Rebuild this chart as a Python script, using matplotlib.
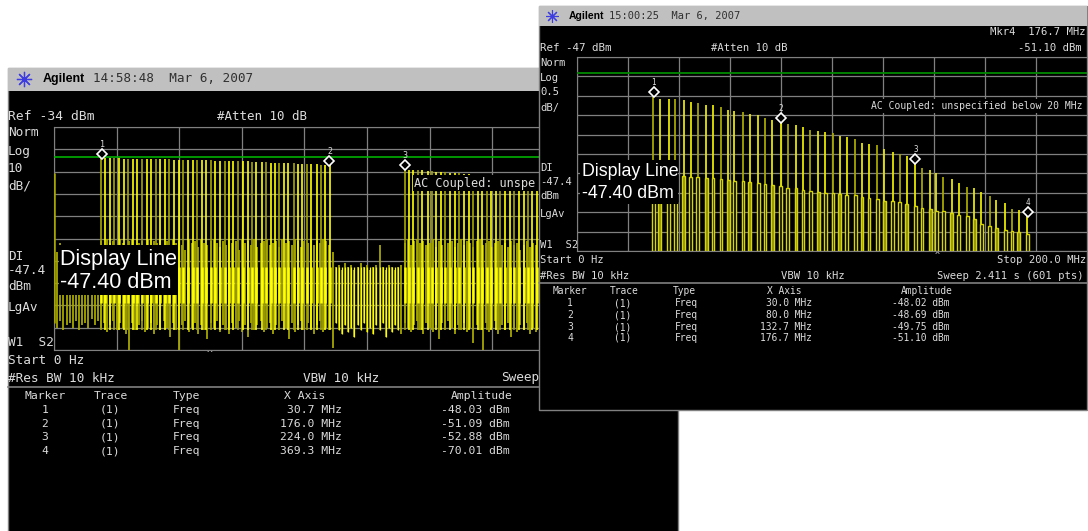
import matplotlib
matplotlib.use('Agg')
import matplotlib.pyplot as plt
import numpy as np
from matplotlib.patches import Rectangle
from matplotlib.transforms import offset_copy

W, H = 1088, 531

# comb of harmonics, MHz
comb_f = [29.9, 32.5, 35.9, 38.6, 41.8, 44.6, 47.3, 50.7, 53.3, 56.5, 59.3, 61.7, 65.1, 67.7, 71.1, 73.7, 76.6,
          79.9, 82.6, 85.9, 88.6, 91.5, 94.7, 97.4, 100.4, 103.0, 105.8, 109.2, 111.8, 114.5, 117.8, 120.5,
          123.8, 126.6, 129.3, 132.7, 135.3, 138.6, 140.9, 143.7, 147.0, 149.7, 153.1, 155.8, 158.6, 161.9,
          164.5, 168.0, 170.6, 173.2, 176.6]
comb_peak = [-48.02, -48.08, -48.08, -48.08, -48.12, -48.15, -48.18, -48.24, -48.24, -48.29, -48.36, -48.38,
             -48.42, -48.47, -48.50, -48.57, -48.62, -48.69, -48.72, -48.74, -48.80, -48.87, -48.91, -48.93,
             -48.96, -49.03, -49.07, -49.11, -49.21, -49.24, -49.27, -49.36, -49.44, -49.49, -49.56, -49.75,
             -49.85, -49.92, -50.00, -50.08, -50.15, -50.24, -50.34, -50.38, -50.48, -50.58, -50.69, -50.77,
             -50.91, -50.95, -51.10]
comb_base = [-50.75, -50.75, -50.75, -50.75, -50.07, -50.09, -50.09, -50.13, -50.13, -50.15, -50.17, -50.19,
             -50.20, -50.22, -50.26, -50.28, -50.31, -50.32, -50.37, -50.37, -50.43, -50.45, -50.48, -50.50,
             -50.51, -50.53, -50.55, -50.56, -50.61, -50.63, -50.65, -50.70, -50.72, -50.75, -50.79, -50.84,
             -50.88, -50.92, -50.96, -50.97, -51.03, -51.08, -51.09, -51.18, -51.31, -51.35, -51.40, -51.45,
             -51.49, -51.50, -51.55]

# left screen, second group of harmonics above 224 MHz
comb2_f = [224.0, 226.7, 229.7, 232.7, 235.3, 238.7, 241.3, 244.0, 247.3, 250.0, 253.3, 256.0, 259.0, 261.7,
           265.0, 267.7, 270.7, 273.7, 276.7, 279.3, 282.7, 285.3, 288.0, 291.3, 294.0, 297.0, 300.0, 302.7,
           305.7, 308.7]
comb2_peak = [-52.9, -53.1, -53.2, -53.4, -53.5, -53.7, -53.8, -54.0, -54.1, -54.3, -54.5, -54.6, -54.8, -55.0,
              -55.2, -55.4, -55.5, -55.8, -56.0, -56.2, -56.4, -56.6, -56.9, -57.1, -57.4, -57.6, -57.9, -58.1,
              -58.4, -58.7]

# left screen trace floor, one value every 2 MHz
noise_top = [-88, -90, -86, -92, -89, -91, -87, -90, -92, -88,
             -91, -89, -93, -90, -88, -85, -87, -84, -86, -85,
             -88, -84, -86, -87, -85, -84, -88, -86, -85, -87,
             -84, -89, -85, -86, -84, -87, -85, -88, -84, -86,
             -85, -87, -89, -84, -86, -85, -88, -84, -86, -87,
             -85, -84, -86, -88, -85, -87, -84, -86, -85, -89,
             -84, -86, -85, -87, -84, -88, -86, -85, -84, -87,
             -86, -85, -88, -84, -86, -85, -87, -84, -85, -88,
             -85, -86, -84, -87, -85, -86, -84, -85, -87, -90,
             -97, -96, -98, -95, -97, -96, -98, -97, -95, -97,
             -96, -98, -97, -96, -87, -97, -98, -96, -97, -98,
             -97, -96, -86, -84, -87, -85, -84, -86, -85, -87,
             -86, -84, -88, -85, -87, -84, -86, -85, -88, -86,
             -84, -87, -85, -86, -88, -85, -84, -87, -86, -85,
             -88, -86, -85, -87, -86, -88, -85, -87, -86, -89,
             -87, -85, -88, -86, -87]
noise_bot = [-122, -124, -121, -125, -123, -122, -124, -121, -125, -123,
             -122, -124, -120, -123, -121, -124, -122, -126, -123, -121,
             -125, -122, -124, -127, -134, -122, -125, -123, -121, -126,
             -124, -122, -127, -123, -125, -121, -124, -128, -122, -125,
             -134, -123, -121, -126, -124, -122, -127, -123, -125, -129,
             -122, -124, -121, -126, -123, -125, -127, -122, -124, -121,
             -126, -123, -128, -122, -125, -123, -121, -126, -124, -122,
             -127, -123, -125, -121, -124, -129, -122, -126, -123, -121,
             -125, -122, -124, -127, -123, -121, -126, -124, -125, -133,
             -122, -125, -127, -123, -126, -124, -128, -123, -125, -122,
             -126, -124, -127, -123, -125, -122, -128, -124, -126, -123,
             -125, -127, -122, -124, -126, -123, -121, -125, -127, -122,
             -124, -126, -123, -129, -122, -125, -121, -124, -127, -123,
             -125, -122, -126, -124, -131, -123, -125, -134, -122, -126,
             -124, -121, -127, -123, -125, -122, -128, -124, -126, -123,
             -125, -122, -127, -124, -126]

# markers: frequency, amplitude
mk_l_f = [30.7, 176.0, 224.0, 369.3]
mk_l_a = [-48.03, -51.09, -52.88, -70.01]
mk_r_f = [30.0, 80.0, 132.7, 176.7]
mk_r_a = [-48.02, -48.69, -49.75, -51.10]

display_line = -47.4

BRIGHT = '#ffff00'
OLIVE = '#a6a600'
GRID = '#808080'
TXT = '#dcdcdc'
MONO = 'DejaVu Sans Mono'
SANS = 'Liberation Sans'

fig = plt.figure(figsize=(W / 100, H / 100), dpi=100, facecolor='white')


def overlay(z):
    a = fig.add_axes([0, 0, 1, 1], zorder=z)
    a.set_xlim(0, W)
    a.set_ylim(H, 0)
    a.axis('off')
    a.patch.set_alpha(0)
    return a


def plot_axes(x0, x1, y0, y1, z):
    a = fig.add_axes([x0 / W, 1 - y1 / H, (x1 - x0) / W, (y1 - y0) / H], zorder=z)
    a.set_facecolor('black')
    a.tick_params(left=False, bottom=False, labelleft=False, labelbottom=False)
    a.grid(True, color=GRID, lw=0.9)
    a.set_axisbelow(True)
    for s in a.spines.values():
        s.set_color(GRID)
    return a


def t(a, x, y, s, size, ha='left', **kw):
    kw.setdefault('color', TXT)
    kw.setdefault('family', MONO)
    a.text(x, y, s, fontsize=size, ha=ha, va='center', clip_on=True, **kw)


def panel(a, x0, y0, x1, y1, head):
    a.add_patch(Rectangle((x0, y0), x1 - x0, y1 - y0, fc='black', ec=GRID, lw=1))
    a.add_patch(Rectangle((x0, y0), x1 - x0, head - y0, fc='#c0c0c0', ec='none'))


def markers(a, fs, amps, size):
    shifted = offset_copy(a.transData, fig=fig, y=4.5, units='dots')
    a.plot(fs, amps, ls='none', marker='D', ms=4.8, mfc='black', mec='white', mew=1.2, transform=shifted, zorder=6)
    labels = offset_copy(a.transData, fig=fig, y=14, units='dots')
    for i, (f, v) in enumerate(zip(fs, amps)):
        a.text(f, v, str(i + 1), color=TXT, fontsize=size, family=MONO, ha='center', va='center',
               transform=labels, zorder=6, clip_on=True)


# left instrument
bg_l = overlay(1)
panel(bg_l, 8, 68, 678, 540, 91)
bg_l.plot([24], [79], marker=(8, 2, 0), ms=11, color='#3c3ce0', mew=0.9)
t(bg_l, 43, 79, 'Agilent', 9, weight='bold', family=SANS, color='black')
t(bg_l, 93, 79, '14:58:48  Mar 6, 2007', 9.1, color='#303030')
t(bg_l, 8, 117, 'Ref -34 dBm', 9.4)
t(bg_l, 217, 117, '#Atten 10 dB', 9.0)
for s, y in [('Norm', 133), ('Log', 151), ('10', 168), ('dB/', 186), ('DI', 256), ('-47.4', 271), ('dBm', 287),
             ('LgAv', 308), ('W1  S2', 342)]:
    t(bg_l, 8, y, s, 9.2)
t(bg_l, 8, 360, 'Start 0 Hz', 9.2)
t(bg_l, 207, 354, '^', 7)
t(bg_l, 8, 378, '#Res BW 10 kHz', 9.2)
t(bg_l, 303, 378, 'VBW 10 kHz', 9.2)
t(bg_l, 501, 378, 'Sweep', 9.2)
bg_l.plot([8, 678], [387, 387], color=GRID, lw=1.2)
for s, x in [('Marker', 45), ('Trace', 111), ('Type', 186), ('X Axis', 305), ('Amplitude', 482)]:
    t(bg_l, x, 396, s, 8.2, ha='center')
for i, y in enumerate([410, 424, 437, 451]):
    t(bg_l, 45, y, str(i + 1), 8.2, ha='center')
    t(bg_l, 110, y, '(1)', 8.2, ha='center')
    t(bg_l, 186, y, 'Freq', 8.2, ha='center')
    t(bg_l, 342, y, f'{mk_l_f[i]:.1f} MHz', 8.2, ha='right')
    t(bg_l, 510, y, f'{mk_l_a[i]:.2f} dBm', 8.2, ha='right')

ax_l = plot_axes(54, 680, 127, 350, 2)
ax_l.set_xlim(0, 400)
ax_l.set_ylim(-134, -34)
ax_l.set_xticks(np.arange(0, 401, 40))
ax_l.set_yticks(np.arange(-134, -33, 10))
noise_x = np.arange(len(noise_top)) * 2.0
ax_l.vlines(noise_x, noise_bot, noise_top, color=OLIVE, lw=1.3, zorder=2)
gap = (noise_x > 178) & (noise_x < 222)
ax_l.vlines(noise_x[gap], np.array(noise_bot)[gap], -97, color=BRIGHT, lw=0.9, zorder=3)
ax_l.vlines([0.3], [-122], [-54.6], color=OLIVE, lw=1.8, zorder=3)
ax_l.vlines(comb_f, -125, comb_peak, color=[BRIGHT if i % 3 else OLIVE for i in range(len(comb_f))], lw=1.2, zorder=3)
ax_l.vlines(comb2_f, -125, comb2_peak, color=[BRIGHT if i % 3 else OLIVE for i in range(len(comb2_f))], lw=1.2, zorder=3)
ax_l.vlines(comb_f + comb2_f, -113, -97, color=BRIGHT, lw=1.8, zorder=4)
ax_l.axhline(display_line, color='#00b000', lw=1.2, zorder=5)
markers(ax_l, mk_l_f[:3], mk_l_a[:3], 6)

fg_l = overlay(3)
fg_l.add_patch(Rectangle((59, 245), 119, 50, fc='black', ec='none'))
t(fg_l, 60, 259, 'Display Line', 15.5, color='white', family=SANS)
t(fg_l, 60, 282, '-47.40 dBm', 15.5, color='white', family=SANS)
fg_l.add_patch(Rectangle((413, 175), 127, 16, fc='black', ec='none'))
t(fg_l, 414, 183, 'AC Coupled: unspe', 8.6)

# right instrument
bg_r = overlay(4)
panel(bg_r, 539, 6, 1087, 410, 26)
bg_r.plot([552], [16], marker=(8, 2, 0), ms=9, color='#3c3ce0', mew=0.8)
t(bg_r, 569, 16, 'Agilent', 7.5, weight='bold', family=SANS, color='black')
t(bg_r, 609, 16, '15:00:25  Mar 6, 2007', 7.5, color='#303030')
t(bg_r, 1086, 32, 'Mkr4  176.7 MHz', 7.6, ha='right')
t(bg_r, 1082, 48, '-51.10 dBm', 7.6, ha='right')
t(bg_r, 540, 48, 'Ref -47 dBm', 7.8)
t(bg_r, 711, 48, '#Atten 10 dB', 7.6)
for s, y in [('Norm', 63), ('Log', 78), ('0.5', 92), ('dB/', 108), ('DI', 168), ('-47.4', 182), ('dBm', 196),
             ('LgAv', 214), ('W1  S2', 245)]:
    t(bg_r, 540, y, s, 7.6)
t(bg_r, 540, 260, 'Start 0 Hz', 7.6)
t(bg_r, 935, 255, '^', 6)
t(bg_r, 1086, 260, 'Stop 200.0 MHz', 7.6, ha='right')
t(bg_r, 540, 276, '#Res BW 10 kHz', 7.6)
t(bg_r, 781, 276, 'VBW 10 kHz', 7.6)
t(bg_r, 1084, 276, 'Sweep 2.411 s (601 pts)', 7.6, ha='right')
bg_r.plot([539, 1087], [283, 283], color=GRID, lw=1.2)
for s, x in [('Marker', 570), ('Trace', 624), ('Type', 684), ('X Axis', 784), ('Amplitude', 927)]:
    t(bg_r, x, 291, s, 6.9, ha='center')
for i, y in enumerate([303, 315, 327, 338]):
    t(bg_r, 570, y, str(i + 1), 6.9, ha='center')
    t(bg_r, 623, y, '(1)', 6.9, ha='center')
    t(bg_r, 686, y, 'Freq', 6.9, ha='center')
    t(bg_r, 812, y, f'{mk_r_f[i]:.1f} MHz', 6.9, ha='right')
    t(bg_r, 949, y, f'{mk_r_a[i]:.2f} dBm', 6.9, ha='right')

ax_r = plot_axes(577, 1087, 57, 251, 5)
ax_r.set_xlim(0, 200)
ax_r.set_ylim(-52, -47)
ax_r.set_xticks(np.arange(0, 201, 20))
ax_r.set_yticks(np.arange(-52, -46.9, 0.5))
ax_r.bar(comb_f, np.array(comb_base) + 52, bottom=-52, width=1.1,
         color=['#8a8a00' if i % 3 == 1 else 'black' for i in range(len(comb_f))],
         ec='#d8d800', lw=1.0, zorder=3)
ax_r.vlines(comb_f, comb_base, comb_peak, color=['#e6e600' if i % 3 else '#a6a600' for i in range(len(comb_f))],
            lw=1.3, zorder=3)
ax_r.axhline(display_line, color='#008a00', lw=1.3, zorder=5)
markers(ax_r, mk_r_f, mk_r_a, 5.5)

fg_r = overlay(6)
fg_r.add_patch(Rectangle((580, 160), 98, 44, fc='black', ec='none'))
t(fg_r, 582, 172, 'Display Line', 12.8, color='white', family=SANS)
t(fg_r, 582, 193, '-47.40 dBm', 12.8, color='white', family=SANS)
fg_r.add_patch(Rectangle((870, 99), 215, 14, fc='black', ec='none'))
t(fg_r, 871, 106, 'AC Coupled: unspecified below 20 MHz', 7.05)

plt.savefig('out.png', dpi=100)
